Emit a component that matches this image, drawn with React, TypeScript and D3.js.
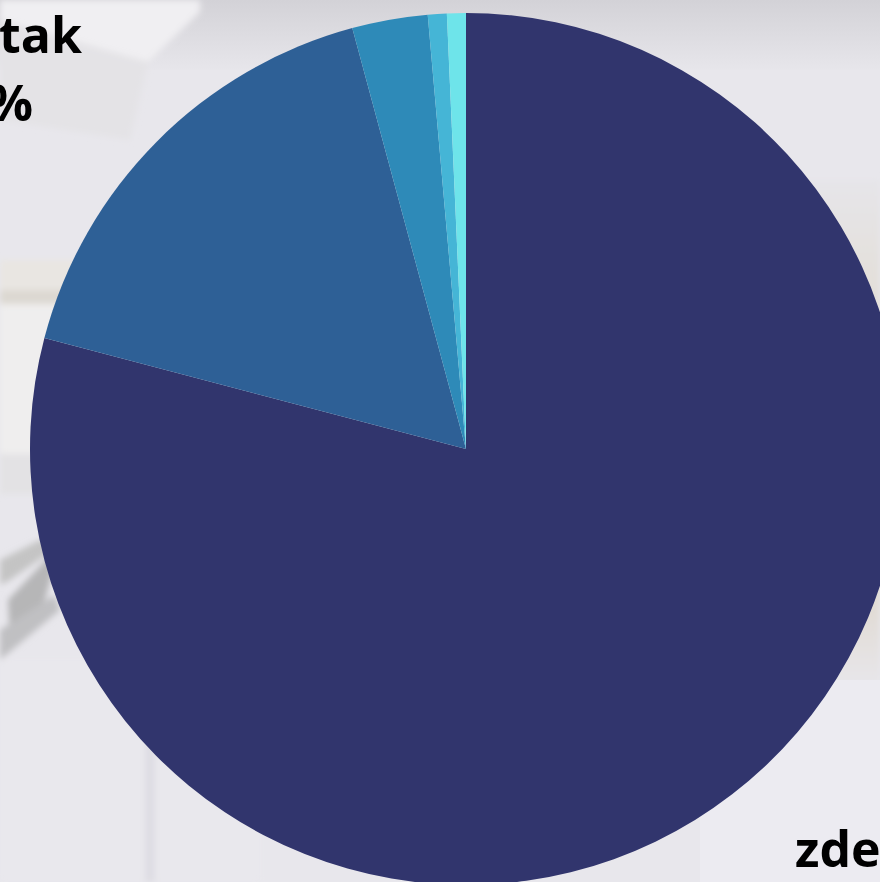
import React from "react";
import * as d3 from "d3";

const categories = ["A", "B", "C", "D", "E"];
const values = [79.1, 16.7, 2.8, 0.7, 0.7];
const colors = ["#31356d", "#2e6096", "#2e8ab8", "#45b5d6", "#6ee4ea"];

const W = 880;
const H = 882;

export default function App() {
  const cx = 466;
  const cy = 449;
  const r = 436;
  const pie = d3.pie<number>().sort(null).value((d) => d)(values);
  const arc = d3.arc<d3.PieArcDatum<number>>().innerRadius(0).outerRadius(r);

  return (
    <svg
      width={W}
      height={H}
      style={{ position: "absolute", left: 0, top: 0, display: "block" }}
    >
      <defs>
        <linearGradient id="topband" x1="0" y1="0" x2="0" y2="1">
          <stop offset="0" stopColor="#d3d2d7" />
          <stop offset="1" stopColor="#e7e6eb" />
        </linearGradient>
        <linearGradient id="rightbg" x1="0" y1="0" x2="0" y2="1">
          <stop offset="0" stopColor="#e6e5e9" />
          <stop offset="0.3" stopColor="#e2ddd3" />
          <stop offset="0.7" stopColor="#dbd3c4" />
          <stop offset="1" stopColor="#e9e8ee" />
        </linearGradient>
        <filter id="blur" x="-20%" y="-20%" width="140%" height="140%">
          <feGaussianBlur stdDeviation="3" />
        </filter>
      </defs>
      <g>
        <rect x={0} y={0} width={W} height={H} fill="#e8e7ec" />
        <rect x={0} y={0} width={W} height={70} fill="url(#topband)" />
        <rect x={760} y={180} width={120} height={520} fill="url(#rightbg)" filter="url(#blur)" />
        <rect x={700} y={680} width={180} height={202} fill="#ecebf1" />
        <g filter="url(#blur)">
          <polygon points="0,0 200,0 200,12 148,62 0,20" fill="#f0eff2" />
          <polygon points="0,20 148,62 130,140 0,120" fill="#e4e3e6" />
          <rect x={0} y={260} width={120} height={30} fill="#e9e6e2" />
          <rect x={0} y={290} width={110} height={14} fill="#dcd8d1" />
          <rect x={0} y={304} width={100} height={150} fill="#efeeee" />
          <rect x={0} y={454} width={80} height={40} fill="#e3e2e4" />
          <polygon points="0,560 40,540 60,545 10,580 0,585" fill="#c4c4c4" />
          <polygon points="8,600 60,545 45,600 10,640" fill="#b6b6b7" />
          <polygon points="0,630 55,595 60,610 0,660" fill="#c0c0c2" />
          <rect x={0} y={660} width={260} height={222} fill="#e9e8ed" />
          <rect x={145} y={720} width={10} height={162} fill="#dedde3" />
        </g>
      </g>
      <g transform={`translate(${cx},${cy})`}>
        {pie.map((d, i) => (
          <path key={categories[i]} d={arc(d) || ""} fill={colors[i]} />
        ))}
      </g>
      <g
        fontFamily="'Open Sans', sans-serif"
        fontWeight={700}
        fontSize={50}
        fill="#000"
      >
        <text x={82} y={53} textAnchor="end">tak</text>
        <text x={33} y={121} textAnchor="end">%</text>
        <text x={795} y={867} textAnchor="start">zde</text>
      </g>
    </svg>
  );
}
